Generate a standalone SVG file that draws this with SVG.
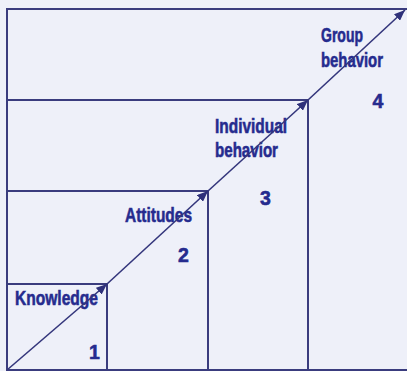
<svg xmlns="http://www.w3.org/2000/svg" width="407" height="371" viewBox="0 0 407 371">
  <style>
    .edge { stroke: #3a3c7e; stroke-width: 2; fill: none; stroke-linecap: square; }
    .flow { stroke: #34367c; stroke-width: 1.6; fill: none; }
    .label { font-family: "Liberation Sans", Arial, sans-serif; font-weight: bold; font-size: 19.5px; fill: #252b8e; stroke: #252b8e; stroke-width: 0.55; }
    .num { text-anchor: middle; }
  </style>
  <defs>
    <marker id="arrow" viewBox="0 0 11 9" refX="11" refY="4.5" markerWidth="11" markerHeight="9" markerUnits="userSpaceOnUse" orient="auto">
      <path d="M0,0 L11,4.5 L0,9 Z" fill="#2f317a"/>
    </marker>
  </defs>

  <rect x="0" y="0" width="407" height="371" fill="#eef0f9"/>

  <!-- outer frame -->
  <g id="frame">
    <line class="edge" x1="7" y1="9" x2="7" y2="370"/>
    <line class="edge" x1="7" y1="9" x2="407" y2="9"/>
    <line class="edge" x1="7" y1="370" x2="407" y2="370"/>
  </g>

  <!-- step 1 -->
  <g id="step-knowledge">
    <line class="edge" x1="7" y1="284" x2="107" y2="284"/>
    <line class="edge" x1="107" y1="284" x2="107" y2="370"/>
    <text class="label" x="15" y="305" textLength="83" lengthAdjust="spacingAndGlyphs">Knowledge</text>
    <text class="label num" x="94.5" y="359">1</text>
  </g>

  <!-- step 2 -->
  <g id="step-attitudes">
    <line class="edge" x1="7" y1="191" x2="208" y2="191"/>
    <line class="edge" x1="208" y1="191" x2="208" y2="370"/>
    <text class="label" x="125" y="222" textLength="67" lengthAdjust="spacingAndGlyphs">Attitudes</text>
    <text class="label num" x="183.5" y="261.5">2</text>
  </g>

  <!-- step 3 -->
  <g id="step-individual">
    <line class="edge" x1="7" y1="100" x2="308" y2="100"/>
    <line class="edge" x1="308" y1="100" x2="308" y2="370"/>
    <text class="label" x="215" y="133" textLength="72" lengthAdjust="spacingAndGlyphs">Individual</text>
    <text class="label" x="215" y="157" textLength="63" lengthAdjust="spacingAndGlyphs">behavior</text>
    <text class="label num" x="265.5" y="205">3</text>
  </g>

  <!-- step 4 -->
  <g id="step-group">
    <text class="label" x="321" y="42" textLength="42" lengthAdjust="spacingAndGlyphs">Group</text>
    <text class="label" x="321" y="67" textLength="62" lengthAdjust="spacingAndGlyphs">behavior</text>
    <text class="label num" x="378" y="108">4</text>
  </g>

  <!-- rising progression arrows -->
  <g id="connectors">
    <line class="flow" x1="7" y1="370" x2="107" y2="284" marker-end="url(#arrow)"/>
    <line class="flow" x1="107" y1="284" x2="208" y2="191" marker-end="url(#arrow)"/>
    <line class="flow" x1="208" y1="191" x2="308" y2="100" marker-end="url(#arrow)"/>
    <line class="flow" x1="308" y1="100" x2="405" y2="10" marker-end="url(#arrow)"/>
  </g>
</svg>
